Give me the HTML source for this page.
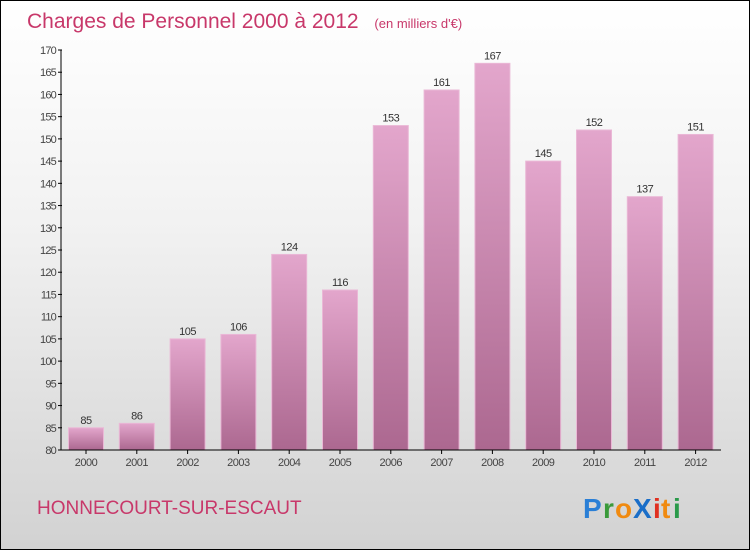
<!DOCTYPE html>
<html><head><meta charset="utf-8"><style>
body{margin:0;}
#wrap{position:relative;width:748px;height:548px;border:1px solid #000;background:linear-gradient(#ffffff,#f2f2f2 40%,#d2d2d2);font-family:"Liberation Sans",sans-serif;overflow:hidden}
</style></head><body>
<div id="wrap">
<svg width="748" height="548">
<defs><linearGradient id="bg" x1="0" y1="0" x2="0" y2="1"><stop offset="0" stop-color="#e3a6cc"/><stop offset="1" stop-color="#ac6890"/></linearGradient></defs>
<text x="26" y="27" font-size="21" fill="#c8386a">Charges de Personnel 2000 à 2012 <tspan font-size="13" dx="10">(en milliers d'€)</tspan></text>
<g id="grid"></g><g id="bars"></g><g id="axes"></g>
<text x="36" y="513" font-size="19" fill="#c8386a">HONNECOURT-SUR-ESCAUT</text>
<g font-size="28" font-weight="bold">
<text x="582" y="517" fill="#2a7fd6">P</text><text x="602" y="517" fill="#3a9a3a">r</text><text x="614" y="517" fill="#f08a10">o</text><text x="632" y="517" fill="#1a6ec8">X</text><text x="652" y="517" fill="#e03020">i</text><text x="660" y="517" fill="#f08a10">t</text><text x="672" y="517" fill="#2a9a4a">i</text></g>
</svg></div>
<script>
const categories=["2000","2001","2002","2003","2004","2005","2006","2007","2008","2009","2010","2011","2012"];
const values=[85,86,105,106,124,116,153,161,167,145,152,137,151];
const yTicks=[80,85,90,95,100,105,110,115,120,125,130,135,140,145,150,155,160,165,170];
const ns="http://www.w3.org/2000/svg";
const y0=449,y1=49,vmin=80,vmax=170;
const yS=v=>y0-(v-vmin)/(vmax-vmin)*(y0-y1);
const xC=i=>85+i*50.8;
function mk(t,a,p){const e=document.createElementNS(ns,t);for(const k in a)e.setAttribute(k,a[k]);p.appendChild(e);return e;}
const axes=document.getElementById('axes'),bars=document.getElementById('bars');
const ax=mk('line',{x1:60,y1:y1,x2:60,y2:y0,stroke:'#000'},axes);


const bx=mk('line',{x1:60,y1:y0,x2:720,y2:y0,stroke:'#000'},axes);


yTicks.forEach(v=>{const y=yS(v);
mk('line',{x1:57,x2:61,y1:y,y2:y,stroke:'#000'},axes);
const t=mk('text',{x:55,y:y+4,'text-anchor':'end','font-size':11,fill:'#444','letter-spacing':'-0.8'},axes);t.textContent=v;

});
categories.forEach((c,i)=>{const x=xC(i),y=yS(values[i]);
const r=mk('rect',{x:x-17.5,y:y,width:35,height:y0-y,fill:'url(#bg)',stroke:'#eab8d6','stroke-width':1},bars);


const vl=mk('text',{x:x,y:y-4,'text-anchor':'middle','font-size':11,fill:'#333','letter-spacing':'-0.5'},bars);vl.textContent=values[i];


mk('line',{x1:x,x2:x,y1:y0,y2:y0+4,stroke:'#000'},axes);
const t=mk('text',{x:x,y:y0+16,'text-anchor':'middle','font-size':11,fill:'#444','letter-spacing':'-0.5'},axes);t.textContent=c;

});
</script>
</body></html>
